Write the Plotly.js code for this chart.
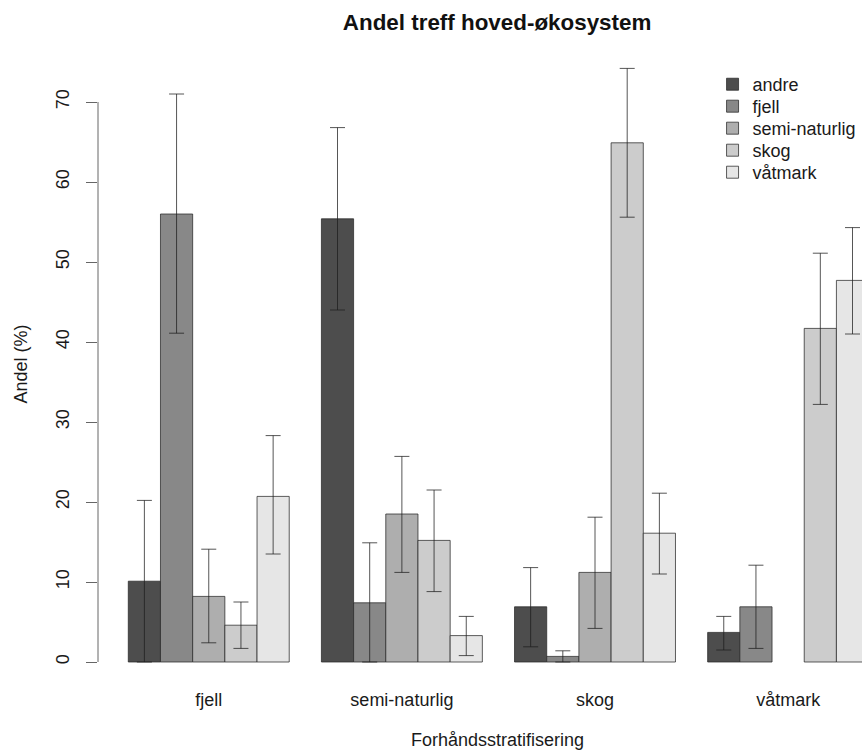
<!DOCTYPE html>
<html>
<head>
<meta charset="utf-8">
<script src="https://cdn.plot.ly/plotly-3.0.1.min.js"></script>
<style>html,body{margin:0;padding:0;background:#fff;}#chart{width:862px;height:751px;}</style>
</head>
<body>
<div id="chart"></div>
<script>
// Forhåndsstratifisering (x categories)
const categories = ["fjell", "semi-naturlig", "skog", "våtmark"];
// Hoved-økosystem series names
const seriesNames = ["andre", "fjell", "semi-naturlig", "skog", "våtmark"];

// Andel (%) per series, one value per category
const andre      = [10.1, 55.4, 6.9, 3.7];
const fjell      = [56.0, 7.4, 0.7, 6.9];
const semiNat    = [8.2, 18.5, 11.2, 0];
const skog       = [4.6, 15.2, 64.9, 41.7];
const vaatmark   = [20.7, 3.3, 16.1, 47.7];

// Confidence interval lower / upper bounds (null = no interval drawn)
const andreLo    = [0.0, 44.0, 1.9, 1.5];
const andreHi    = [20.2, 66.8, 11.8, 5.7];
const fjellLo    = [41.1, 0.0, 0.0, 1.7];
const fjellHi    = [71.0, 14.9, 1.4, 12.1];
const semiLo     = [2.4, 11.2, 4.2, null];
const semiHi     = [14.1, 25.7, 18.1, null];
const skogLo     = [1.7, 8.8, 55.6, 32.2];
const skogHi     = [7.5, 21.5, 74.2, 51.1];
const vaatLo     = [13.5, 0.8, 11.0, 41.0];
const vaatHi     = [28.3, 5.7, 21.1, 54.3];

const yTicks = [0, 10, 20, 30, 40, 50, 60, 70];

const colors = ["#4D4D4D", "#888888", "#AEAEAE", "#CCCCCC", "#E6E6E6"];
const values = [andre, fjell, semiNat, skog, vaatmark];
const lows = [andreLo, fjellLo, semiLo, skogLo, vaatLo];
const highs = [andreHi, fjellHi, semiHi, skogHi, vaatHi];

const FONT = "Liberation Sans, Arial, Helvetica, sans-serif";
const legendIds = ["legend", "legend2", "legend3", "legend4", "legend5"];
const legendY = [0.9806, 0.9452, 0.9097, 0.8742, 0.8387];

const traces = seriesNames.map((name, i) => ({
  type: "bar",
  name: name,
  legend: legendIds[i],
  x: categories,
  y: values[i],
  marker: {
    color: colors[i],
    line: { color: "rgba(40,40,40,0.75)", width: values[i].map(v => (v === 0 ? 0 : 1)) }
  },
  error_y: {
    type: "data",
    symmetric: false,
    array: highs[i].map((h, k) => (h === null ? NaN : h - values[i][k])),
    arrayminus: values[i].map((v, k) => (lows[i][k] === null ? NaN : v - lows[i][k])),
    color: "rgba(30,30,30,0.75)",
    thickness: 1,
    width: 7.5
  },
  hoverinfo: "name+y"
}));

const layout = {
  width: 862,
  height: 751,
  paper_bgcolor: "#fff",
  plot_bgcolor: "#fff",
  font: { family: FONT, size: 18, color: "#1a1a1a" },
  margin: { l: 97.7, r: 0, t: 54, b: 77, pad: 0 },
  barmode: "group",
  bargap: 1 / 6,
  bargroupgap: 0,
  showlegend: true,
  title: {
    text: "<b>Andel treff hoved-økosystem</b>",
    font: { family: FONT, size: 22.4, color: "#111" },
    xref: "paper", x: 0.5224, xanchor: "center",
    yref: "container", y: 0.9707, yanchor: "middle"
  },
  xaxis: {
    type: "category",
    range: [-0.5735, 3.3825],
    showline: false, showgrid: false, zeroline: false,
    ticks: "", ticklabelstandoff: 13,
    tickfont: { family: FONT, size: 18, color: "#1a1a1a" },
    fixedrange: true
  },
  yaxis: {
    range: [-1.5, 76],
    tickvals: yTicks,
    ticktext: yTicks.map(String),
    tickangle: -90,
    ticks: "outside", ticklen: 11, tickwidth: 1, tickcolor: "#666",
    ticklabelstandoff: 10,
    showline: false, showgrid: false, zeroline: false,
    tickfont: { family: FONT, size: 18, color: "#1a1a1a" },
    title: { text: "Andel (%)", font: { family: FONT, size: 18, color: "#1a1a1a" }, standoff: 20 },
    fixedrange: true
  },
  shapes: [{
    type: "line", xref: "paper", yref: "y",
    x0: 0, x1: 0, y0: 0, y1: 70,
    line: { color: "#666", width: 1 }
  }],
  annotations: [{
    text: "Forhåndsstratifisering",
    xref: "paper", yref: "paper",
    x: 0.5224, y: -0.106, xanchor: "center", yanchor: "middle",
    showarrow: false,
    font: { family: FONT, size: 18, color: "#1a1a1a" }
  }]
};

legendIds.forEach((id, i) => {
  layout[id] = {
    x: 0.8044, y: legendY[i], xanchor: "left", yanchor: "top",
    bgcolor: "rgba(0,0,0,0)", borderwidth: 0,
    font: { family: FONT, size: 18, color: "#1a1a1a" },
    itemclick: false, itemdoubleclick: false
  };
});

Plotly.newPlot("chart", traces, layout, { displayModeBar: false, staticPlot: true });
</script>
</body>
</html>
